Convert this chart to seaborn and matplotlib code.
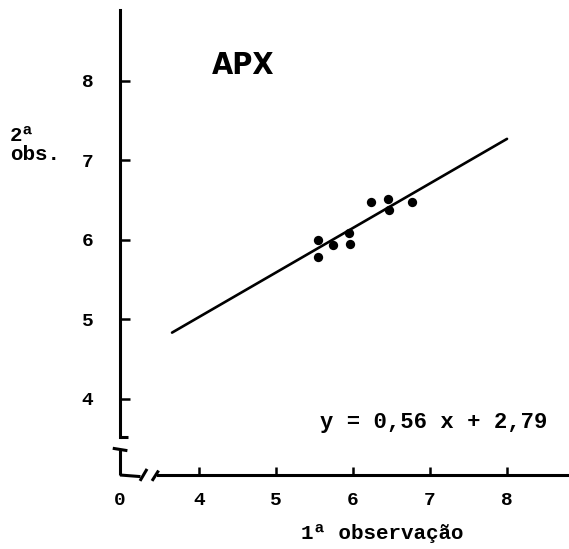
import matplotlib
matplotlib.use("Agg")
import matplotlib.pyplot as plt
import numpy as np
import pandas as pd
import seaborn as sns

# Pairs of observations (1st vs 2nd) for APX
obs1 = [5.55, 5.55, 5.74, 5.95, 5.96, 6.24, 6.45, 6.47, 6.76]
obs2 = [6.00, 5.78, 5.94, 6.09, 5.95, 6.47, 6.52, 6.38, 6.47]

# Fitted line y = a x + b
slope = 0.56
intercept = 2.79
line_x = [3.65, 8.0]

x_ticks = [4, 5, 6, 7, 8]
y_ticks = [4, 5, 6, 7, 8]
title = "APX"
equation = "y = 0,56 x + 2,79"
xlabel = "1ª observação"
ylabel = "2ª\nobs."

sns.set_style("ticks")
plt.rcParams["font.family"] = ["Liberation Mono", "DejaVu Sans Mono"]
plt.rcParams["text.color"] = "black"
plt.rcParams["axes.labelcolor"] = "black"

W, H = 569, 549
fig = plt.figure(figsize=(W / 100, H / 100), dpi=100)
fig.patch.set_facecolor("white")
ax = fig.add_axes([120 / W, 74 / H, 449 / W, 465 / H])
ax.set_facecolor("white")

x0, x1 = 2.974, 8.805
y0, y1 = 3.044, 8.89
ax.set_xlim(x0, x1)
ax.set_ylim(y0, y1)

pts = pd.DataFrame({"obs1": obs1, "obs2": obs2})
sns.scatterplot(data=pts, x="obs1", y="obs2", ax=ax, color="black",
                s=45, edgecolor="black", linewidth=0, zorder=3)

fit = pd.DataFrame({"x": line_x})
fit["y"] = slope * fit["x"] + intercept
sns.lineplot(data=fit, x="x", y="y", ax=ax, color="black", linewidth=1.9)

# Axes with broken segments near the origin
lw_axis = 2.2
for side in ["top", "right"]:
    ax.spines[side].set_visible(False)
ax.spines["left"].set_linewidth(lw_axis)
ax.spines["bottom"].set_linewidth(lw_axis)
ax.spines["left"].set_color("black")
ax.spines["bottom"].set_color("black")
ax.spines["left"].set_bounds(3.52, y1)
ax.spines["bottom"].set_bounds(3.47, x1)

kw = dict(color="black", linewidth=lw_axis, clip_on=False, solid_capstyle="butt")
# lower stub of the y axis and its break marks
ax.plot([x0, x0], [y0, 3.36], **kw)
ax.plot([x0, 3.08], [3.52, 3.52], **kw)
ax.plot([2.88, 3.07], [3.38, 3.35], **kw)
# left stub of the x axis and the // break
ax.plot([x0, 3.24], [y0, y0 - 0.02], **kw)
ax.plot([3.234, 3.325], [2.97, 3.12], **kw)
ax.plot([3.39, 3.475], [2.97, 3.10], **kw)

ax.set_xticks([x0] + x_ticks)
ax.set_xticklabels(["0"] + [str(t) for t in x_ticks])
ax.set_yticks(y_ticks)
ax.set_yticklabels([str(t) for t in y_ticks])
ax.tick_params(axis="x", direction="in", length=6, width=1.8, pad=12,
               labelsize=14, colors="black")
ax.tick_params(axis="y", direction="in", length=7, width=1.8, pad=19,
               labelsize=14, colors="black")
ax.xaxis.get_major_ticks()[0].tick1line.set_visible(False)
for lab in ax.get_xticklabels() + ax.get_yticklabels():
    lab.set_fontweight("bold")

ax.set_xlabel(xlabel, fontsize=15, fontweight="bold")
ax.xaxis.set_label_coords(0.5835, -0.125)
ax.xaxis.label.set_va("center")
ax.set_ylabel(ylabel, fontsize=15, rotation=0, ha="left", va="center",
              multialignment="left", linespacing=1.0, fontweight="bold")
ax.yaxis.set_label_coords(-0.245, 0.71)

ax.text(4.57, 8.19, title, ha="center", va="center", fontsize=22,
        fontweight="bold", fontstretch="condensed",
        family=["DejaVu Sans", "Liberation Sans"])
ax.text(7.05, 3.71, equation, ha="center", va="center", fontsize=16,
        fontweight="bold")

fig.savefig("out.png", dpi=100, facecolor="white")
